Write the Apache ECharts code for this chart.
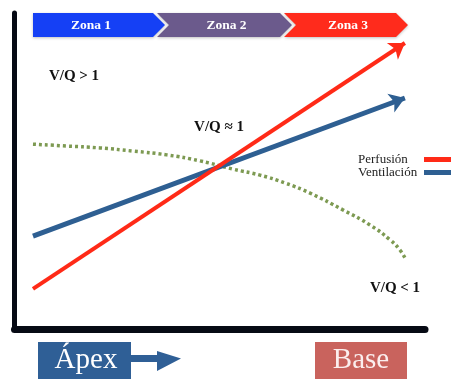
<!DOCTYPE html>
<html><head><meta charset="utf-8">
<script src="https://cdn.jsdelivr.net/npm/echarts@6/dist/echarts.min.js"></script>
<style>html,body{margin:0;padding:0;background:#fff}#c{width:451px;height:379px}</style>
</head><body><div id="c"></div>
<script>
// ---- data (axis units: 0..10 from apex to base, 0..10 bottom to top) ----
const seriesNames = ['Perfusión', 'Ventilación'];
const perfusionLine = [[0.45, 1.27], [9.51, 9.05]];
const ventilationLine = [[0.45, 2.94], [9.51, 7.31]];
const vqCurveX = [0.45, 1.28, 2.08, 2.89, 3.71, 4.52, 5.32, 5.98, 6.59, 7.20, 8.00, 8.66, 9.15, 9.39, 9.54];
const vqCurveY = [5.85, 5.79, 5.73, 5.63, 5.51, 5.32, 5.06, 4.87, 4.62, 4.30, 3.77, 3.29, 2.82, 2.50, 2.18];
const zoneLabels = ['Zona 1', 'Zona 2', 'Zona 3'];
const regionLabels = ['V/Q > 1', 'V/Q ≈ 1', 'V/Q < 1'];
const bottomLabels = ['Ápex', 'Base'];

const SERIF = 'Liberation Serif';
const RED = '#ff2a17', BLUE = '#2e5f92', GREEN = '#7d9a52';
const zoneColors = ['#1540f5', '#6b5a8c', '#ff2b1c'];

const chart = echarts.init(document.getElementById('c'), null, {renderer: 'canvas'});

function txt(x, y, text, size, weight, fill, vAlign) {
  return {type: 'text', x: x, y: y, z: 10,
    style: {text: text, fill: fill, fontFamily: SERIF, fontSize: size, fontWeight: weight,
      align: 'center', verticalAlign: vAlign || 'middle'}};
}

// chevrons
const zoneGeom = [
  {x0: 33, x1: 153, tip: 165, notch: 0},
  {x0: 157, x1: 280, tip: 292, notch: 12},
  {x0: 284, x1: 396, tip: 408, notch: 12}
];
const zTop = 13, zBot = 37, zMid = 25;
const graphics = [];
zoneGeom.forEach((g, i) => {
  const pts = [[g.x0, zTop], [g.x1, zTop], [g.tip, zMid], [g.x1, zBot], [g.x0, zBot]];
  if (g.notch) pts.push([g.x0 + g.notch, zMid]);
  graphics.push({type: 'polygon', shape: {points: pts},
    style: {fill: zoneColors[i], shadowBlur: 3, shadowColor: 'rgba(0,0,0,0.25)', shadowOffsetY: 1}});
  const cx = i === 0 ? (g.x0 + g.x1) / 2 - 2 : (g.x0 + g.notch + g.x1) / 2 + 2;
  graphics.push(txt(cx, zMid + 1, zoneLabels[i], 13.5, 'bold', '#fff'));
});
// region labels
const regionPos = [[74, 76], [219, 127], [395, 288]];
regionLabels.forEach((t, i) => {
  graphics.push(txt(regionPos[i][0], regionPos[i][1], t, 15, 'bold', '#111'));
});
// bottom boxes
graphics.push({type: 'rect', shape: {x: 38, y: 342, width: 93, height: 40}, style: {fill: '#2f5f96'}});
graphics.push({type: 'polygon', shape: {points: [[130, 355], [157, 355], [157, 351], [181, 358.5], [157, 371], [157, 362], [130, 362]]},
  style: {fill: '#2f5f96'}});
graphics.push(txt(86, 375, bottomLabels[0], 29, 'normal', '#fff', 'bottom'));
graphics.push({type: 'rect', shape: {x: 315, y: 342, width: 92, height: 40}, style: {fill: '#c9635d'}});
graphics.push(txt(361, 375, bottomLabels[1], 29, 'normal', '#fbeeee', 'bottom'));

const option = {
  animation: false,
  backgroundColor: '#fff',
  grid: {left: 14.5, top: 13, right: 26, bottom: 50},
  xAxis: {type: 'value', min: 0, max: 10, axisLine: {show: true, lineStyle: {color: '#060a14', width: 7}},
    axisTick: {show: false}, axisLabel: {show: false}, splitLine: {show: false}},
  yAxis: {type: 'value', min: 0, max: 10, axisLine: {show: true, lineStyle: {color: '#060a14', width: 5}},
    axisTick: {show: false}, axisLabel: {show: false}, splitLine: {show: false}},
  legend: {
    orient: 'vertical', left: 353, top: 148, align: 'right', itemGap: 0,
    itemWidth: 26, itemHeight: 3, icon: 'rect',
    formatter: '{a|{name}}',
    textStyle: {fontFamily: SERIF, fontSize: 13, color: '#222',
      rich: {a: {fontFamily: SERIF, fontSize: 13, color: '#222', width: 62, align: 'left', lineHeight: 15}}},
    data: [
      {name: seriesNames[0], itemStyle: {color: RED}},
      {name: seriesNames[1], itemStyle: {color: BLUE}}
    ]
  },
  graphic: graphics,
  series: [
    {type: 'line', name: 'vq', data: vqCurveX.map((x, i) => [x, vqCurveY[i]]), smooth: true, showSymbol: false,
      lineStyle: {color: GREEN, width: 3.5, type: [3, 3]}, z: 1},
    {type: 'lines', name: seriesNames[1], coordinateSystem: 'cartesian2d', symbol: ['none', 'arrow'], symbolSize: 15,
      lineStyle: {color: BLUE, width: 5, opacity: 1}, data: [{coords: ventilationLine}], z: 3},
    {type: 'lines', name: seriesNames[0], coordinateSystem: 'cartesian2d', symbol: ['none', 'arrow'], symbolSize: 15,
      lineStyle: {color: RED, width: 4, opacity: 1}, data: [{coords: perfusionLine}], z: 4}
  ]
};
chart.setOption(option);
</script></body></html>
